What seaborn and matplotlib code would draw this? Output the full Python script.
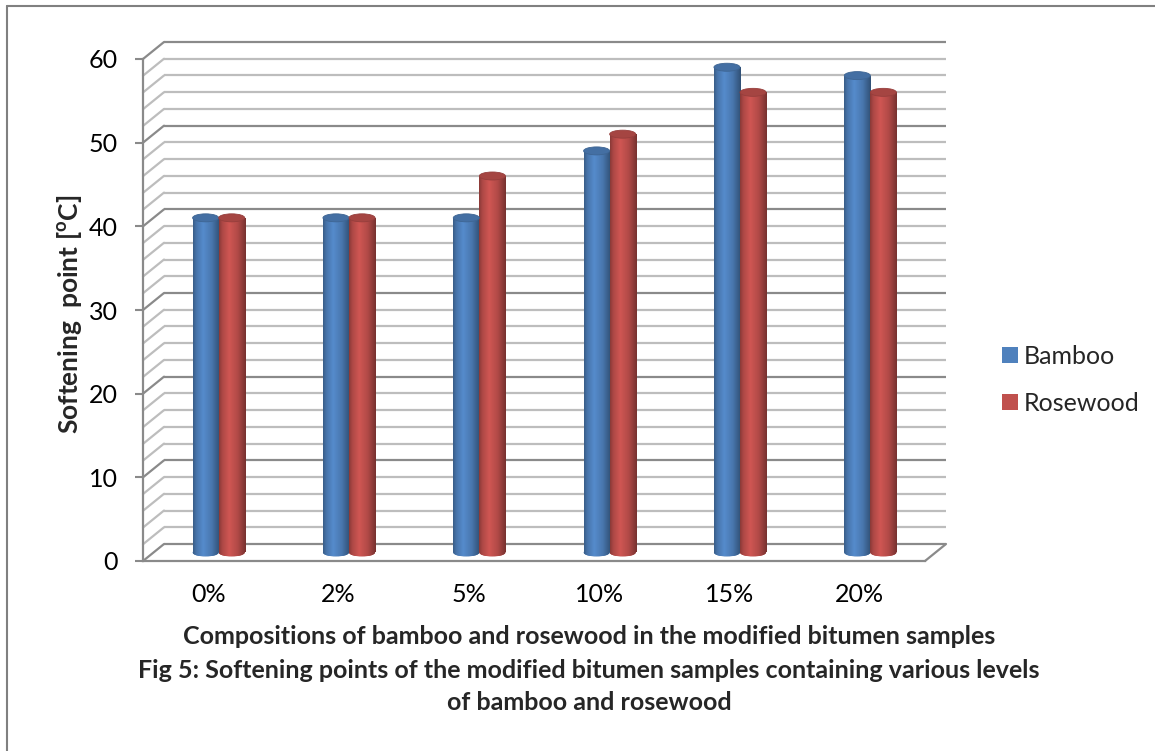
import numpy as np
import pandas as pd
import matplotlib
matplotlib.use("Agg")
import matplotlib.pyplot as plt
import matplotlib.transforms as mtransforms
from matplotlib.patches import Ellipse
from matplotlib.lines import Line2D
from matplotlib.colors import to_rgb
import seaborn as sns

# ---- data -------------------------------------------------------------
compositions = ["0%", "2%", "5%", "10%", "15%", "20%"]
bamboo = [40, 40, 40, 48, 58, 57]
rosewood = [40, 40, 45, 50, 55, 55]
series_names = ["Bamboo", "Rosewood"]
series_colors = ["#4F81BD", "#C0504D"]
y_ticks = [0, 10, 20, 30, 40, 50, 60]

df = pd.DataFrame({
    "composition": compositions * 2,
    "softening": bamboo + rosewood,
    "sample": [series_names[0]] * len(compositions) + [series_names[1]] * len(compositions),
})

# ---- style ------------------------------------------------------------
sns.set_theme(style="white")
plt.rcParams["font.family"] = ["Lato", "DejaVu Sans"]
plt.rcParams["mathtext.fontset"] = "custom"
plt.rcParams["mathtext.rm"] = "Lato:bold"

FS = 18

W, H, DPI = 1155, 751, 100
fig = plt.figure(figsize=(W / DPI, H / DPI), dpi=DPI)
fig.patch.set_facecolor("white")

# front plane of the pseudo-3D plot area (pixels)
X0, X1 = 143, 925
Y0, Y1 = 561, 59
ax = fig.add_axes([X0 / W, 1 - Y0 / H, (X1 - X0) / W, (Y0 - Y1) / H])
ax.set_facecolor("none")

sns.barplot(data=df, x="composition", y="softening", hue="sample",
            palette=series_colors, width=0.4, saturation=1, ax=ax,
            legend=False, linewidth=0, edgecolor="none", zorder=3)

XMIN, XMAX, YMIN, YMAX = -0.5, 5.5, 0, 60
ax.set_xlim(XMIN, XMAX)
ax.set_ylim(YMIN, YMAX)

# depth of the box in pixels and in data units
DEPTH_PX = (21, 17)
px_x = (X1 - X0) / (XMAX - XMIN)
px_y = (Y0 - Y1) / (YMAX - YMIN)
ddx, ddy = DEPTH_PX[0] / px_x, DEPTH_PX[1] / px_y

MAJOR_C, MINOR_C = "#8A8A8A", "#BDBDBD"

# back wall + side wall gridlines
for v in range(0, 61, 2):
    col = MAJOR_C if v % 10 == 0 else MINOR_C
    ax.plot([XMIN + ddx, XMAX + ddx], [v + ddy, v + ddy], color=col, lw=1.6,
            clip_on=False, zorder=0, solid_capstyle="butt")
    ax.plot([XMIN, XMIN + ddx], [v, v + ddy], color=col, lw=1.6,
            clip_on=False, zorder=0)

# floor right edge
ax.plot([XMAX, XMAX + ddx], [0, ddy], color=MAJOR_C, lw=1.6, clip_on=False, zorder=1)

# bars sit half-way into the box depth
mid = ax.transData + mtransforms.ScaledTranslation(
    DEPTH_PX[0] / 2 / DPI, DEPTH_PX[1] / 2 / DPI, fig.dpi_scale_trans)

def shade(rgb, n=64):
    t = np.linspace(0, 1, n)
    k = np.interp(t, [0, 0.12, 0.38, 0.7, 1.0], [0.72, 0.9, 1.08, 0.92, 0.62])
    g = np.clip(np.array(rgb)[None, :] * k[:, None], 0, 1)
    return g[None, :, :]

ell_h = 8 / px_y
bar_patches = list(ax.patches)
for p in bar_patches:
    p.set_transform(mid)
    rgb = to_rgb(p.get_facecolor()[:3])
    x, y = p.get_x(), p.get_y()
    w, h = p.get_width(), p.get_height()
    grad = shade(rgb)
    im = ax.imshow(grad, extent=[x, x + w, y, y + h], aspect="auto",
                   interpolation="bilinear", zorder=3.1)
    im.set_transform(mid)
    im.set_clip_path(p)
    # rounded base
    base = Ellipse((x + w / 2, y), w, ell_h, transform=mid,
                   facecolor=rgb, edgecolor="none", zorder=2.9)
    ax.add_patch(base)
    im2 = ax.imshow(grad, extent=[x, x + w, y - ell_h / 2, y + ell_h / 2],
                    aspect="auto", interpolation="bilinear", zorder=3.0)
    im2.set_transform(mid)
    im2.set_clip_path(base)
    # cap
    top_rgb = tuple(np.clip(np.array(rgb) * 0.86, 0, 1))
    cap = Ellipse((x + w / 2, y + h), w, ell_h, transform=mid,
                  facecolor=top_rgb, edgecolor=tuple(np.array(rgb) * 0.78),
                  lw=0.6, zorder=3.3)
    ax.add_patch(cap)

ax.set_xlim(XMIN, XMAX)
ax.set_ylim(YMIN, YMAX)

# axes and ticks
for side in ["top", "right"]:
    ax.spines[side].set_visible(False)
for side in ["left", "bottom"]:
    ax.spines[side].set_color(MAJOR_C)
    ax.spines[side].set_linewidth(1.6)
    ax.spines[side].set_zorder(1)

ax.set_yticks(y_ticks)
ax.set_yticklabels([str(t) for t in y_ticks])
ax.tick_params(axis="y", length=6, width=1.5, color=MAJOR_C, pad=12,
               labelsize=FS, labelcolor="black", left=True)
ax.set_xticks(range(len(compositions)))
ax.set_xticklabels(compositions)
ax.tick_params(axis="x", length=0, pad=16, labelsize=FS, labelcolor="black")
ax.set_xlabel("")
ax.set_ylabel("")
ax.grid(False)

# axis titles and caption
fig.text(69 / W, 1 - 314 / H, "Softening  point [$^\\mathrm{o}$C]", rotation=90,
         ha="center", va="center", fontsize=19, fontweight="bold")
fig.text(589 / W, 1 - 636 / H,
         "Compositions of bamboo and rosewood in the modified bitumen samples",
         ha="center", va="center", fontsize=FS, fontweight="bold")
fig.text(589 / W, 1 - 670 / H,
         "Fig 5: Softening points of the modified bitumen samples containing various levels",
         ha="center", va="center", fontsize=FS, fontweight="bold")
fig.text(589 / W, 1 - 703 / H, "of bamboo and rosewood",
         ha="center", va="center", fontsize=FS, fontweight="bold")

# legend
handles = [Line2D([0], [0], marker="s", ls="", markersize=11,
                  markerfacecolor=c, markeredgewidth=0) for c in series_colors]
fig.legend(handles, series_names, loc="center left",
           bbox_to_anchor=(979 / W, 1 - 380 / H), frameon=False, fontsize=FS,
           labelspacing=0.95, handletextpad=0.2, handlelength=0.7)

# chart frame
fig.add_artist(Line2D([6.5 / W, 6.5 / W], [0, 1 - 5.5 / H], color="#808080", lw=1.5))
fig.add_artist(Line2D([6.5 / W, 1], [1 - 5.5 / H, 1 - 5.5 / H], color="#808080", lw=1.5))

fig.savefig("out.png", dpi=DPI)
